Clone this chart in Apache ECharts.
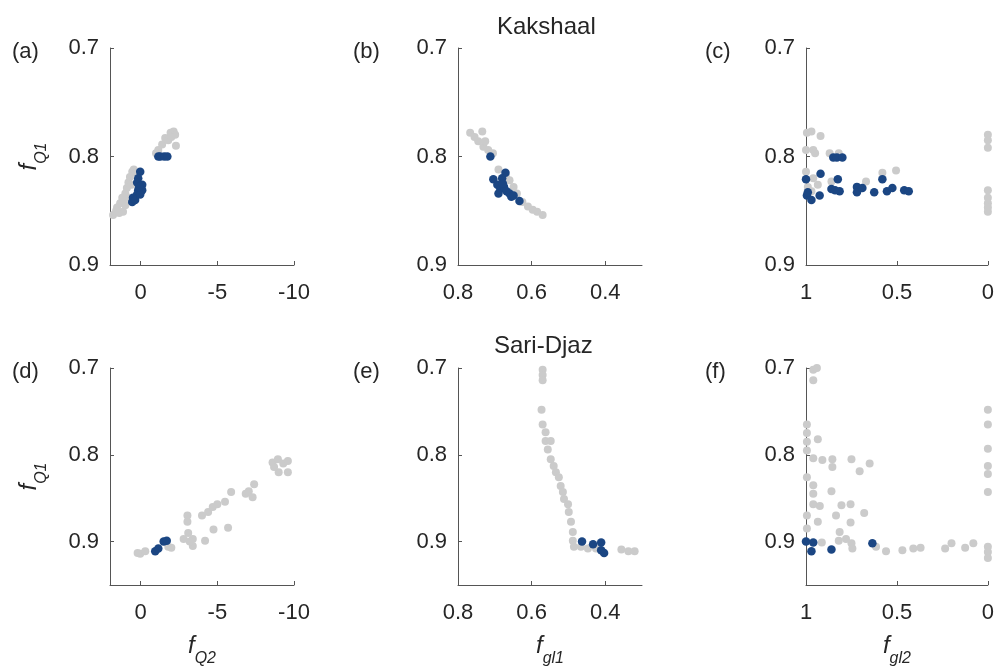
<!DOCTYPE html>
<html>
<head>
<meta charset="utf-8">
<script src="https://cdn.jsdelivr.net/npm/echarts@6/dist/echarts.min.js"></script>
<style>
html, body { margin: 0; padding: 0; background: #fff; }
#chart { width: 997px; height: 668px; }
</style>
</head>
<body>
<div id="chart"></div>
<script>
// tick labels
const yTicks = [0.7, 0.8, 0.9];
const qTicks = [0, -5, -10];
const gl1Ticks = [0.8, 0.6, 0.4];
const gl2Ticks = [1, 0.5, 0];

// (a) Kakshaal: fQ2 vs fQ1
const aGray = [[1.8,0.854],[1.54,0.847],[1.15,0.851],[1.34,0.843],[1.2,0.838],[1.0,0.834],[0.9,0.829],[0.8,0.824],[0.7,0.819],
  [0.55,0.814],[0.8,0.838],[0.45,0.812],[0.3,0.815],[1.4,0.852],[1.0,0.845],[1.6,0.850],[1.1,0.840],[0.6,0.826],
  [-1.15,0.794],[-1.4,0.789],[-1.6,0.783],[-1.95,0.778],[-2.15,0.777],[-2.25,0.780],[-2.3,0.790],[-1.8,0.785],[-1.0,0.797],[-2.0,0.782]];
const aBlue = [[0.03,0.814],[0.16,0.820],[0.23,0.824],[-0.1,0.826],[0.16,0.831],[0.23,0.835],[0.5,0.838],[0.55,0.842],
  [0.36,0.840],[-0.1,0.831],[0.03,0.835],[0.1,0.828],[-1.15,0.800],[-1.28,0.800],[-1.54,0.800],[-1.74,0.800]];

// (b) Kakshaal: fgl1 vs fQ1
const bGray = [[0.767,0.778],[0.755,0.782],[0.745,0.786],[0.734,0.777],[0.731,0.791],[0.726,0.786],[0.718,0.794],[0.705,0.797],
  [0.69,0.812],[0.67,0.818],[0.66,0.822],[0.649,0.828],[0.64,0.834],[0.625,0.842],[0.61,0.846],[0.597,0.849],[0.585,0.851],[0.570,0.854]];
const bBlue = [[0.712,0.800],[0.704,0.821],[0.671,0.815],[0.68,0.820],[0.693,0.826],[0.685,0.830],[0.675,0.828],[0.668,0.832],
  [0.66,0.834],[0.69,0.834],[0.655,0.837],[0.649,0.836],[0.633,0.841],[0.678,0.825]];

// (c) Kakshaal: fgl2 vs fQ1
const cGray = [[0.995,0.778],[0.97,0.777],[0.92,0.781],[1.0,0.794],[0.96,0.794],[0.95,0.797],[0.87,0.797],[0.82,0.797],
  [1.0,0.814],[0.96,0.820],[0.935,0.826],[0.99,0.828],[0.86,0.823],[0.67,0.823],[0.58,0.815],[0.505,0.813],[0.97,0.832],
  [0,0.780],[0,0.785],[0,0.792],[0,0.831],[0,0.838],[0,0.843],[0,0.847],[0,0.851]];
const cBlue = [[0.85,0.801],[0.83,0.801],[0.80,0.801],[0.92,0.816],[1.0,0.821],[0.825,0.821],[0.995,0.836],[0.97,0.840],
  [0.925,0.836],[0.86,0.830],[0.815,0.832],[0.72,0.828],[0.72,0.833],[0.69,0.829],[0.625,0.833],[0.58,0.821],[0.555,0.832],
  [0.525,0.829],[0.46,0.831],[0.435,0.832],[0.99,0.833],[0.84,0.831]];

// (d) Sari-Djaz: fQ2 vs fQ1
const dGray = [[0.03,0.914],[-0.3,0.911],[0.2,0.913],[-1.8,0.906],[-2.0,0.907],[-3.05,0.870],[-3.05,0.877],[-2.8,0.897],[-3.4,0.897],
  [-3.4,0.905],[-3.1,0.890],[-3.2,0.900],[-4.2,0.899],[-4.75,0.886],[-5.7,0.884],[-4.0,0.870],[-4.4,0.866],[-4.7,0.860],
  [-5.0,0.857],[-5.5,0.854],[-5.9,0.843],[-6.85,0.845],[-7.05,0.842],[-7.3,0.849],[-7.4,0.834],[-8.6,0.809],[-8.95,0.805],
  [-9.3,0.810],[-9.6,0.807],[-9.0,0.820],[-9.6,0.820],[-8.7,0.814]];
const dBlue = [[-0.95,0.911],[-1.15,0.908],[-1.5,0.900],[-1.7,0.899]];

// (e) Sari-Djaz: fgl1 vs fQ1
const eGray = [[0.57,0.702],[0.57,0.708],[0.57,0.714],[0.573,0.748],[0.57,0.765],[0.562,0.774],[0.562,0.784],[0.548,0.784],
  [0.556,0.794],[0.548,0.805],[0.540,0.813],[0.534,0.820],[0.526,0.826],[0.521,0.836],[0.515,0.843],[0.512,0.851],
  [0.501,0.857],[0.499,0.866],[0.493,0.877],[0.488,0.889],[0.488,0.899],[0.485,0.906],[0.466,0.906],[0.447,0.908],
  [0.356,0.909],[0.337,0.911],[0.32,0.911],[0.425,0.908]];
const eBlue = [[0.463,0.900],[0.433,0.903],[0.411,0.901],[0.411,0.910],[0.403,0.913]];

// (f) Sari-Djaz: fgl2 vs fQ1
const fGray = [[0.96,0.702],[0.94,0.700],[0.96,0.714],[0.995,0.765],[0.995,0.775],[0.995,0.785],[0.995,0.795],[0.935,0.782],
  [0.96,0.804],[0.91,0.806],[0.855,0.805],[0.855,0.814],[0.75,0.805],[0.65,0.810],[0.705,0.819],[0.995,0.826],[0.96,0.835],
  [0.86,0.842],[0.96,0.845],[0.96,0.857],[0.924,0.859],[0.805,0.858],[0.755,0.857],[0.68,0.867],[0.995,0.870],[0.935,0.877],
  [0.835,0.870],[0.755,0.878],[0.995,0.885],[0.815,0.889],[0.78,0.897],[0.82,0.899],[0.913,0.901],[0.75,0.902],[0.745,0.908],
  [0.615,0.906],[0.56,0.911],[0.47,0.910],[0.41,0.908],[0.37,0.907],[0.235,0.908],[0.2,0.902],[0.125,0.907],[0.08,0.902],
  [0,0.748],[0,0.765],[0,0.793],[0,0.813],[0,0.822],[0,0.843],[0,0.906],[0,0.912],[0,0.919]];
const fBlue = [[1.0,0.900],[0.96,0.901],[0.97,0.911],[0.86,0.909],[0.635,0.902]];

const font = 'Liberation Sans, Arial, sans-serif';
const gray = '#cbcbcb';
const blue = '#1b4683';
const lefts = [110, 458, 806];
const tops = [48, 368];

const grids = [];
const xAxes = [];
const yAxes = [];
const series = [];

function axisName(main, sub) {
  return '{f|' + main + '}{s|' + sub + '}';
}
const nameRich = {
  f: { fontSize: 24, fontStyle: 'italic', fontFamily: font, color: '#262626' },
  s: { fontSize: 16, fontStyle: 'italic', fontFamily: font, color: '#262626', padding: [26, 0, 0, 0] }
};

const panels = [
  { gray: aGray, blue: aBlue, x: [-10, 2], xt: qTicks, y: [0.7, 0.9], xname: '' },
  { gray: bGray, blue: bBlue, x: [0.3, 0.8], xt: gl1Ticks, y: [0.7, 0.9], xname: '' },
  { gray: cGray, blue: cBlue, x: [0, 1], xt: gl2Ticks, y: [0.7, 0.9], xname: '' },
  { gray: dGray, blue: dBlue, x: [-10, 2], xt: qTicks, y: [0.7, 0.95], xname: axisName('f', 'Q2') },
  { gray: eGray, blue: eBlue, x: [0.3, 0.8], xt: gl1Ticks, y: [0.7, 0.95], xname: axisName('f', 'gl1') },
  { gray: fGray, blue: fBlue, x: [0, 1], xt: gl2Ticks, y: [0.7, 0.95], xname: axisName('f', 'gl2') }
];

const lineStyle = { color: '#555', width: 1 };
const labelStyle = { color: '#262626', fontSize: 22, fontFamily: font };

panels.forEach(function (p, i) {
  const col = i % 3, row = Math.floor(i / 3);
  grids.push({ left: lefts[col], top: tops[row], width: 184, height: row === 0 ? 217 : 218 });
  xAxes.push({
    gridIndex: i, type: 'value', inverse: true, min: p.x[0], max: p.x[1],
    axisLine: { onZero: false, lineStyle: lineStyle },
    axisTick: { inside: true, length: 4, lineStyle: lineStyle, customValues: p.xt },
    axisLabel: Object.assign({ margin: 17, customValues: p.xt }, labelStyle),
    splitLine: { show: false },
    name: p.xname, nameLocation: 'middle', nameGap: 40,
    nameTextStyle: { rich: nameRich }
  });
  yAxes.push({
    gridIndex: i, type: 'value', inverse: true, min: p.y[0], max: p.y[1],
    axisLine: { show: true, onZero: false, lineStyle: lineStyle },
    axisTick: { show: true, inside: true, length: 4, lineStyle: lineStyle, customValues: yTicks },
    axisLabel: Object.assign({ margin: 11, customValues: yTicks, formatter: function (v) { return v.toFixed(1); } }, labelStyle),
    splitLine: { show: false },
    name: col === 0 ? axisName('f', 'Q1') : '', nameLocation: 'middle', nameGap: 60, nameRotate: 90,
    nameTextStyle: { rich: nameRich }
  });
  series.push({
    type: 'scatter', xAxisIndex: i, yAxisIndex: i, data: p.gray,
    symbolSize: 8, itemStyle: { color: gray, opacity: 1 }, silent: true, z: 2
  });
  series.push({
    type: 'scatter', xAxisIndex: i, yAxisIndex: i, data: p.blue,
    symbolSize: 8.5, itemStyle: { color: blue, opacity: 1 }, silent: true, z: 3
  });
});

const labels = ['(a)', '(b)', '(c)', '(d)', '(e)', '(f)'];
const labelX = [12, 353, 705];
const graphics = labels.map(function (t, i) {
  return {
    type: 'text', left: labelX[i % 3], top: tops[Math.floor(i / 3)] - 7,
    style: { text: t, fontSize: 22, fontFamily: font, fill: '#262626' }
  };
});
graphics.push({ type: 'text', left: 497, top: 15, style: { text: 'Kakshaal', fontSize: 24, fontFamily: font, fill: '#262626' } });
graphics.push({ type: 'text', left: 494, top: 334, style: { text: 'Sari-Djaz', fontSize: 24, fontFamily: font, fill: '#262626' } });

const chart = echarts.init(document.getElementById('chart'));
chart.setOption({
  animation: false,
  backgroundColor: '#fff',
  grid: grids,
  xAxis: xAxes,
  yAxis: yAxes,
  series: series,
  graphic: graphics
});
</script>
</body>
</html>
